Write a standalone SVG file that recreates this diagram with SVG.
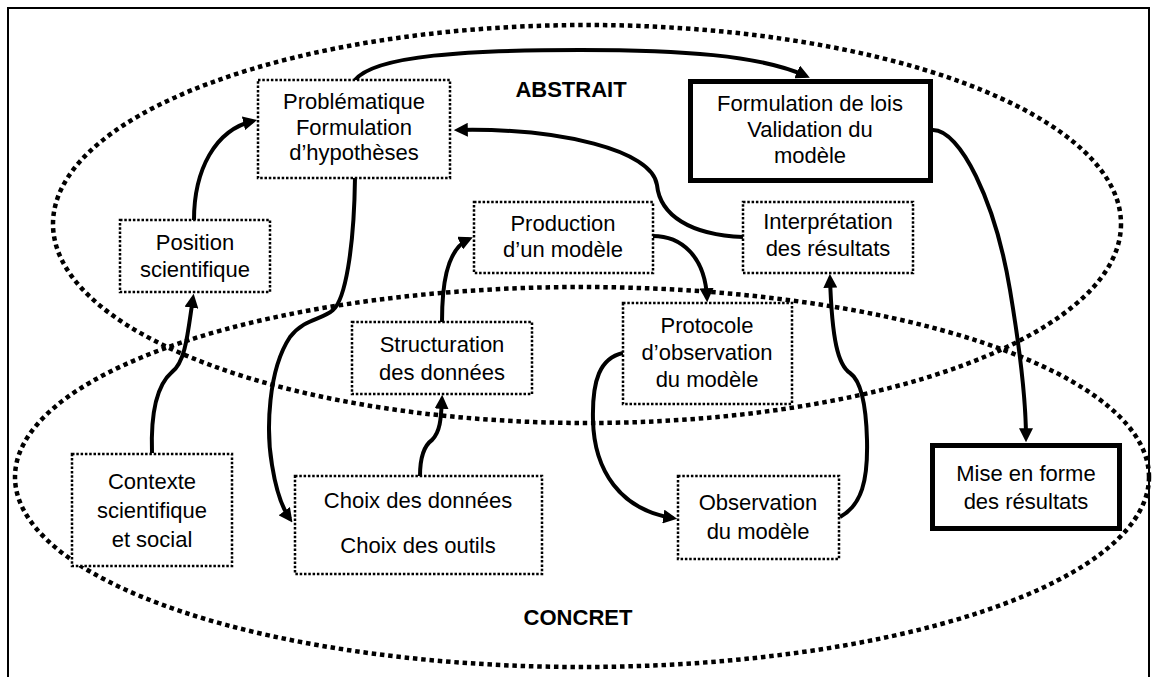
<svg xmlns="http://www.w3.org/2000/svg" width="1152" height="677" viewBox="0 0 1152 677">
<style>
.zone{fill:none;stroke:#000;stroke-width:4.5;stroke-dasharray:4.5 3.8}
.box{fill:#fff;stroke:#000;stroke-width:2.5;stroke-dasharray:2.5 1.8}
.thick{fill:#fff;stroke:#000;stroke-width:5}
.t{font-family:"Liberation Sans",Arial,sans-serif;font-size:22px;fill:#000;text-anchor:middle}
.lbl{font-family:"Liberation Sans",Arial,sans-serif;font-size:22px;font-weight:bold;fill:#000;text-anchor:middle}
.c{fill:none;stroke:#000;stroke-width:4}
</style>
<defs>
<marker id="arr" viewBox="0 0 10 10" refX="7" refY="5" markerWidth="14" markerHeight="14" markerUnits="userSpaceOnUse" orient="auto"><path d="M0,0 L10,5 L0,10 z" fill="#000"/></marker>
</defs>
<rect x="0" y="0" width="1152" height="677" fill="#fff"/>
<rect x="8" y="8" width="1141" height="690" fill="none" stroke="#000" stroke-width="2"/>
<g id="zones">
<ellipse class="zone" cx="587" cy="224" rx="534" ry="199"/>
<ellipse class="zone" cx="582" cy="477" rx="567" ry="190"/>
<text class="lbl" x="571" y="97">ABSTRAIT</text>
<text class="lbl" x="578" y="625">CONCRET</text>
</g>
<g id="connectors">
<path class="c" marker-end="url(#arr)" d="M355,80 C375,55 470,50 580,50 C680,50 760,55 806,76"/>
<path class="c" marker-end="url(#arr)" d="M743,237 C690,235 660,215 657,185 C652,150 560,128 458,130"/>
<path class="c" marker-end="url(#arr)" d="M194,220 C194,170 215,130 253,121"/>
<path class="c" marker-end="url(#arr)" d="M152,453 C150,395 165,378 172,372 C186,362 188,330 193,298"/>
<path class="c" marker-end="url(#arr)" d="M355,178 C354,250 345,300 333,310 C322,320 305,318 290,337 C268,370 266,430 272,465 C276,490 282,508 290,519"/>
<path class="c" marker-end="url(#arr)" d="M420,476 C420,455 425,445 432,440 C440,432 441,420 442,399"/>
<path class="c" marker-end="url(#arr)" d="M442,322 C442,290 445,250 469,239"/>
<path class="c" marker-end="url(#arr)" d="M653,236 C680,236 705,255 707,298"/>
<path class="c" marker-end="url(#arr)" d="M623,353 C600,358 592,380 593,420 C594,470 620,510 673,518"/>
<path class="c" marker-end="url(#arr)" d="M840,517 C862,505 868,480 867,440 C866,400 860,380 850,373 C838,365 832,340 830,278"/>
<path class="c" marker-end="url(#arr)" d="M933,130 C960,130 995,200 1010,290 C1020,350 1026,400 1026,438"/>
</g>
<g id="n-problematique">
<rect class="box" x="258" y="80" width="192" height="98"/>
<text class="t" x="354" y="109">Problématique</text>
<text class="t" x="354" y="135">Formulation</text>
<text class="t" x="354" y="160">d’hypothèses</text>
</g>
<g id="n-formulation">
<rect class="thick" x="690.5" y="81.5" width="240" height="99"/>
<text class="t" x="810" y="111">Formulation de lois</text>
<text class="t" x="810" y="137">Validation du</text>
<text class="t" x="810" y="163">modèle</text>
</g>
<g id="n-position">
<rect class="box" x="120" y="220" width="150" height="72"/>
<text class="t" x="195" y="250">Position</text>
<text class="t" x="195" y="277">scientifique</text>
</g>
<g id="n-production">
<rect class="box" x="474" y="202" width="179" height="71"/>
<text class="t" x="563" y="231">Production</text>
<text class="t" x="563" y="257">d’un modèle</text>
</g>
<g id="n-interpretation">
<rect class="box" x="743" y="202" width="170" height="71"/>
<text class="t" x="828" y="229">Interprétation</text>
<text class="t" x="828" y="256">des résultats</text>
</g>
<g id="n-structuration">
<rect class="box" x="352" y="322" width="180" height="72"/>
<text class="t" x="442" y="352">Structuration</text>
<text class="t" x="442" y="380">des données</text>
</g>
<g id="n-protocole">
<rect class="box" x="623" y="303" width="169" height="101"/>
<text class="t" x="707" y="333">Protocole</text>
<text class="t" x="707" y="360">d’observation</text>
<text class="t" x="707" y="387">du modèle</text>
</g>
<g id="n-contexte">
<rect class="box" x="72" y="454" width="160" height="112"/>
<text class="t" x="152" y="489">Contexte</text>
<text class="t" x="152" y="518">scientifique</text>
<text class="t" x="152" y="547">et social</text>
</g>
<g id="n-choix">
<rect class="box" x="295" y="476" width="247" height="98"/>
<text class="t" x="418" y="508">Choix des données</text>
<text class="t" x="418" y="553">Choix des outils</text>
</g>
<g id="n-observation">
<rect class="box" x="678" y="476" width="161" height="83"/>
<text class="t" x="758" y="510">Observation</text>
<text class="t" x="758" y="539">du modèle</text>
</g>
<g id="n-mise">
<rect class="thick" x="932.5" y="445.5" width="187" height="83"/>
<text class="t" x="1026" y="481">Mise en forme</text>
<text class="t" x="1026" y="509">des résultats</text>
</g>
</svg>
